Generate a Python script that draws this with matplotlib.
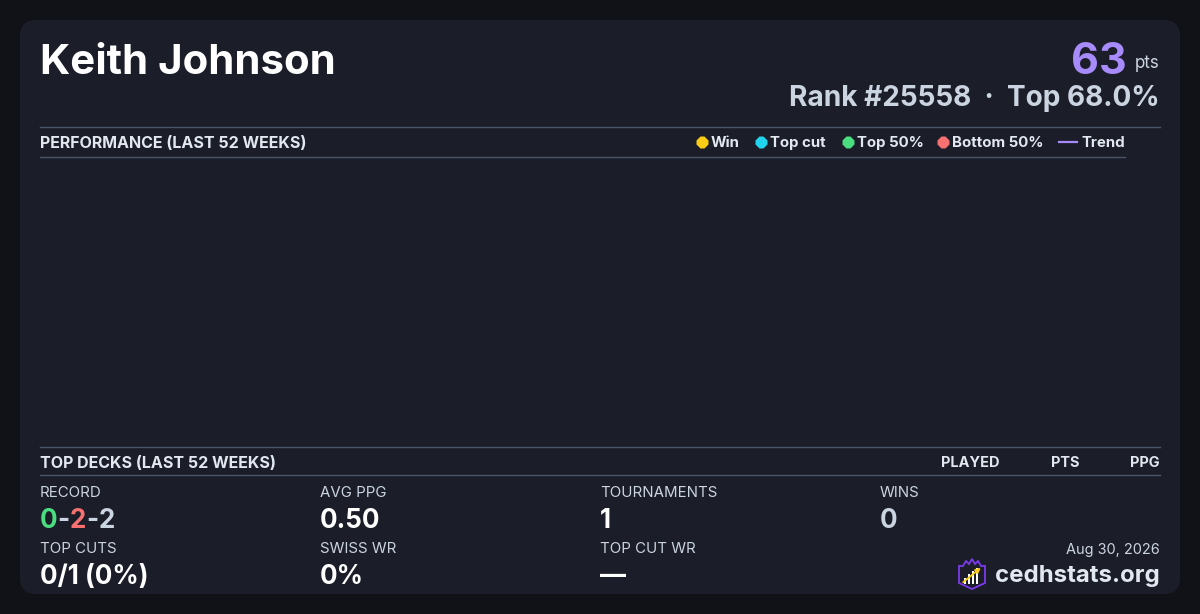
import matplotlib
matplotlib.use('Agg')
import matplotlib.pyplot as plt
from matplotlib.patches import FancyBboxPatch, Polygon, Rectangle

# ---- data ----
player = 'Keith Johnson'
points = 63
rank = 25558
top_pct = 68.0

legend_labels = ['Win', 'Top cut', 'Top 50%', 'Bottom 50%']
legend_colors = ['#facc15', '#22d3ee', '#4ade80', '#f87171']
trend_color = '#a78bfa'

# no results in the last 52 weeks
week_index = []
week_points = []

deck_cols = ['PLAYED', 'PTS', 'PPG']

record = [0, 2, 2]  # wins - losses - draws
record_colors = ['#4ade80', '#f87171', '#cbd5e1']
stat_labels_top = ['RECORD', 'AVG PPG', 'TOURNAMENTS', 'WINS']
stat_values_top = [None, '0.50', '1', '0']
stat_labels_bot = ['TOP CUTS', 'SWISS WR', 'TOP CUT WR']
stat_values_bot = ['0/1 (0%)', '0%', '\u2014']
date_str = 'Aug 30, 2026'
site = 'cedhstats.org'

# ---- style ----
BG = '#111217'
CARD = '#1b1d29'
LINE = '#4a5568'
WHITE = '#ffffff'
GREY = '#cbd5e1'
LIGHT = '#e2e8f0'
FONT = ['Inter', 'DejaVu Sans']

def px(s):
    return s * 0.72

fig = plt.figure(figsize=(12, 6.14), dpi=100, facecolor=BG)
ax = fig.add_axes([0, 0, 1, 1])
ax.set_xlim(0, 1200)
ax.set_ylim(614, 0)
ax.axis('off')

ax.add_patch(FancyBboxPatch((20, 20), 1160, 574, boxstyle='round,pad=0,rounding_size=16',
                            fc=CARD, ec='none'))

# header
ax.text(40, 74, player, color=WHITE, fontsize=px(42), fontweight='bold', family=FONT, va='baseline')
ax.text(1160, 68, 'pts', color=GREY, fontsize=px(17), family=FONT, ha='right', va='baseline')
ax.text(1127, 74, str(points), color=trend_color, fontsize=px(43), fontweight='bold',
        family=FONT, ha='right', va='baseline')
ax.text(1160, 106, f'Rank #{rank}  \u00b7  Top {top_pct:.1f}%', color=GREY, fontsize=px(28),
        fontweight='bold', family=FONT, ha='right', va='baseline')

# performance section
ax.plot([40, 1160], [126.5, 126.5], color=LINE, lw=1)
ax.plot([40, 1125], [156.5, 156.5], color=LINE, lw=1)
ax.text(40, 148, 'PERFORMANCE (LAST 52 WEEKS)', color=LIGHT, fontsize=px(16),
        fontweight='bold', family=FONT, va='baseline')

leg_x = [702, 761, 848, 943]
for x, lab, col in zip(leg_x, legend_labels, legend_colors):
    ax.plot(x, 142, marker='8', ms=px(13), color=col, mec='none')
    ax.text(x + 9, 147, lab, color=LIGHT, fontsize=px(15), fontweight='bold',
            family=FONT, va='baseline')
ax.plot([1059, 1077], [142, 142], color=trend_color, lw=1.6)
ax.text(1081, 147, 'Trend', color=LIGHT, fontsize=px(15), fontweight='bold',
        family=FONT, va='baseline')

# chart area (empty)
cax = fig.add_axes([40 / 1200, 1 - 446 / 614, 1085 / 1200, 290 / 614])
cax.set_facecolor('none')
cax.scatter(week_index, week_points)
cax.plot(week_index, week_points, color=trend_color)
cax.axis('off')

# top decks
ax.plot([40, 1160], [446.5, 446.5], color=LINE, lw=1)
ax.plot([40, 1160], [474.5, 474.5], color=LINE, lw=1)
ax.text(40, 468, 'TOP DECKS (LAST 52 WEEKS)', color=LIGHT, fontsize=px(16),
        fontweight='bold', family=FONT, va='baseline')
for x, lab in zip([1000, 1080, 1160], deck_cols):
    ax.text(x, 467, lab, color=LIGHT, fontsize=px(14.5), fontweight='bold',
            family=FONT, ha='right', va='baseline')

# stats
col_x = [40, 320, 600, 880]
for x, lab in zip(col_x, stat_labels_top):
    ax.text(x, 497, lab, color=GREY, fontsize=px(15), family=FONT, va='baseline')
for x, lab in zip(col_x, stat_labels_bot):
    ax.text(x, 553, lab, color=GREY, fontsize=px(15), family=FONT, va='baseline')

fig.canvas.draw()
r = fig.canvas.get_renderer()
inv = ax.transData.inverted()

# record in colours
pieces = [(str(record[0]), record_colors[0]), ('-', GREY), (str(record[1]), record_colors[1]),
          ('-', GREY), (str(record[2]), record_colors[2])]
cx = 40
for s, c in pieces:
    t = ax.text(cx, 528, s, color=c, fontsize=px(26), fontweight='bold', family=FONT, va='baseline')
    bb = t.get_window_extent(renderer=r)
    cx = inv.transform((bb.x1, 0))[0]

for x, v in zip(col_x[1:], stat_values_top[1:]):
    c = GREY if x == 880 else WHITE
    ax.text(x, 528, v, color=c, fontsize=px(26), fontweight='bold', family=FONT, va='baseline')
for x, v in zip(col_x, stat_values_bot):
    ax.text(x, 584, v, color=WHITE, fontsize=px(26), fontweight='bold', family=FONT, va='baseline')

# footer
ax.text(1160, 554, date_str, color=GREY, fontsize=px(14.5), family=FONT, ha='right', va='baseline')
ax.text(1160, 582, site, color=LIGHT, fontsize=px(24), fontweight='bold', family=FONT,
        ha='right', va='baseline')

# logo
shield = [(959, 566), (963, 566), (966, 561), (969, 564), (972, 559), (975, 564), (978, 561),
          (981, 566), (985, 566), (985, 583), (972, 589), (959, 583)]
ax.add_patch(Polygon(shield, closed=True, fc='none', ec='#7c3aed', lw=1.3))
for bx, bh in zip([964, 968, 972, 976], [6, 10, 13, 16]):
    ax.add_patch(Rectangle((bx, 584 - bh), 2.4, bh, fc=WHITE, ec='none'))
ax.annotate('', xy=(983, 566), xytext=(961, 584),
            arrowprops=dict(arrowstyle='-|>', color='#facc15', lw=1.3, mutation_scale=7))

fig.savefig('out.png', dpi=100, facecolor=BG)
